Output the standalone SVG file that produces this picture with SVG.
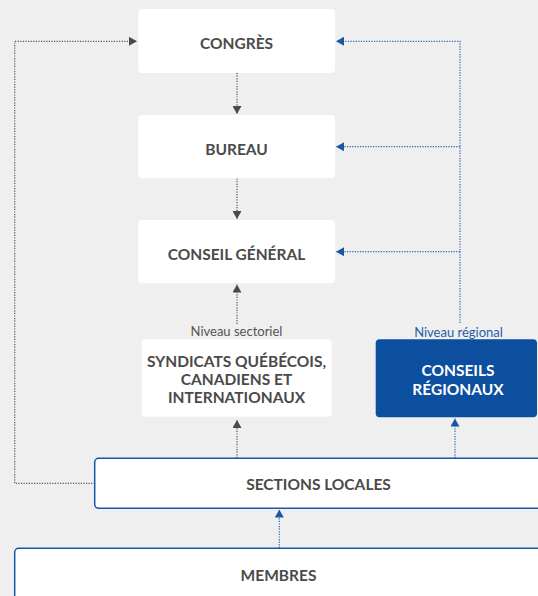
<svg xmlns="http://www.w3.org/2000/svg" width="538" height="596" viewBox="0 0 538 596">
<defs>
<style>
.bg{fill:#eeefee}
.box{fill:#ffffff}
.obox{fill:#ffffff;stroke:#1a56a6;stroke-width:1.5}
.bbox{fill:#0d4f9f}
.t{font-family:Lato,"Open Sans","Liberation Sans",sans-serif;font-weight:700;font-size:15.5px;fill:#4a4a4a;text-anchor:middle}
.tw{fill:#ffffff}
.lbl{font-family:Lato,"Liberation Sans",sans-serif;font-size:13px;text-anchor:middle}
.g{stroke:#555555;stroke-width:1.2;stroke-dasharray:1.2 1.4;fill:none}
.b{stroke:#2a62b4;stroke-width:1.2;stroke-dasharray:1.2 1.4;fill:none}
</style>
<marker id="ag" markerUnits="userSpaceOnUse" viewBox="0 0 8 9" markerWidth="8" markerHeight="9" refX="8" refY="4.5" orient="auto">
<path d="M0,0 L8,4.5 L0,9 Z" fill="#4a4a4a"/>
</marker>
<marker id="ab" markerUnits="userSpaceOnUse" viewBox="0 0 8 9" markerWidth="8" markerHeight="9" refX="8" refY="4.5" orient="auto">
<path d="M0,0 L8,4.5 L0,9 Z" fill="#1a56a6"/>
</marker>
</defs>
<rect class="bg" x="0" y="0" width="538" height="596"/>

<g id="connectors">
<path class="g" d="M95,483.3 H14.7 V41.3 H137" marker-end="url(#ag)"/>
<path class="b" d="M460,323 V41.3 H336" marker-end="url(#ab)"/>
<path class="b" d="M460,146.7 H336" marker-end="url(#ab)"/>
<path class="b" d="M460,251.7 H336" marker-end="url(#ab)"/>
<path class="g" d="M237,73 V114" marker-end="url(#ag)"/>
<path class="g" d="M237,178.5 V219" marker-end="url(#ag)"/>
<path class="g" d="M237,324 V284.5" marker-end="url(#ag)"/>
<path class="g" d="M237,458 V420" marker-end="url(#ag)"/>
<path class="b" d="M455,458 V418.5" marker-end="url(#ab)"/>
<path class="b" d="M279.3,548 V509.5" marker-end="url(#ab)"/>
</g>

<g id="congres">
<rect class="box" x="138.3" y="9" width="196.7" height="64" rx="4"/>
<text class="t" x="236.5" y="49">CONGRÈS</text>
</g>
<g id="bureau">
<rect class="box" x="138.3" y="115" width="196.7" height="63.3" rx="4"/>
<text class="t" x="236.5" y="154.5">BUREAU</text>
</g>
<g id="conseil-general">
<rect class="box" x="138.3" y="220" width="196.7" height="63.3" rx="4"/>
<text class="t" x="236.5" y="259.5">CONSEIL GÉNÉRAL</text>
</g>
<g id="syndicats">
<text class="lbl" x="236.5" y="336" fill="#555555">Niveau sectoriel</text>
<rect class="box" x="141.7" y="339.3" width="190" height="77.4" rx="4"/>
<text class="t" x="236.5" y="367.3">SYNDICATS QUÉBÉCOIS,</text>
<text class="t" x="236.5" y="385">CANADIENS ET</text>
<text class="t" x="236.5" y="402.7">INTERNATIONAUX</text>
</g>
<g id="conseils-regionaux">
<text class="lbl" x="458.5" y="336.5" fill="#2a5ca8">Niveau régional</text>
<rect class="bbox" x="375.7" y="339.3" width="161.3" height="78" rx="4"/>
<text class="t tw" x="458" y="376">CONSEILS</text>
<text class="t tw" x="458" y="395">RÉGIONAUX</text>
</g>
<g id="sections-locales">
<rect class="obox" x="94.7" y="458.3" width="450" height="50" rx="4"/>
<text class="t" x="318.5" y="489.5">SECTIONS LOCALES</text>
</g>
<g id="membres">
<rect class="obox" x="14.7" y="548.3" width="530" height="60" rx="4"/>
<text class="t" x="278.5" y="581">MEMBRES</text>
</g>
</svg>
